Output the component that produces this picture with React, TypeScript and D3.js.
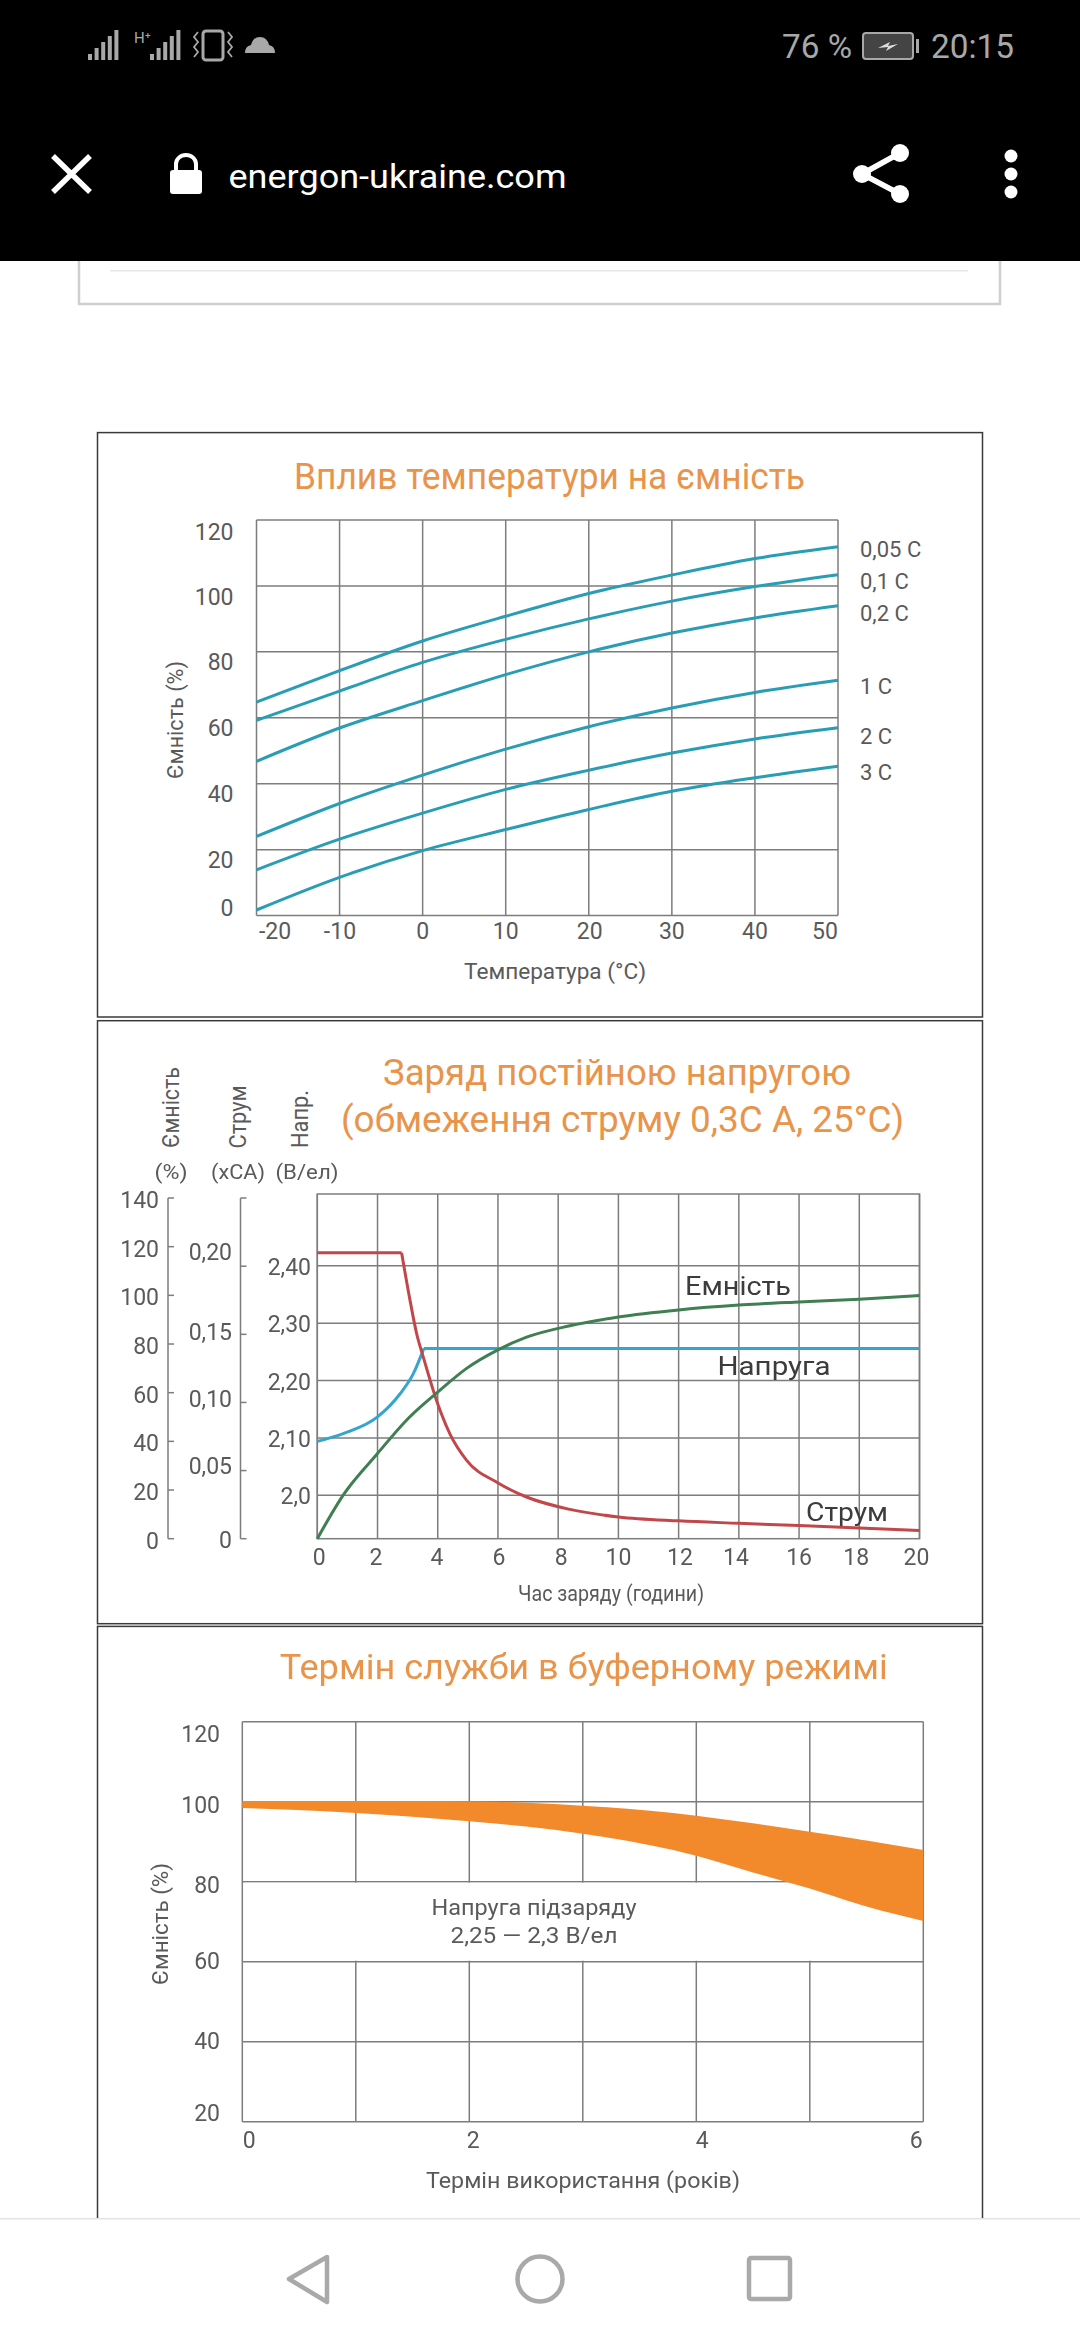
import React from "react";
import * as d3 from "d3";

// ---------- data: chart 1 (capacity vs temperature) ----------
const tempTicks = [-20, -10, 0, 10, 20, 30, 40, 50];
const capTicks1 = [0, 20, 40, 60, 80, 100, 120];
const rateLabels = ["0,05 C", "0,1 C", "0,2 C", "1 C", "2 C", "3 C"];
const rate005 = [64.8, 74.3, 83.3, 90.8, 97.7, 103.3, 108.3, 111.9];
const rate01 = [59.2, 68.1, 76.8, 83.8, 90.0, 95.4, 99.8, 103.4];
const rate02 = [46.8, 56.9, 65.2, 73.1, 80.0, 85.7, 90.3, 94.0];
const rate1 = [24.0, 34.0, 42.6, 50.5, 57.3, 63.0, 67.7, 71.4];
const rate2 = [13.9, 23.2, 31.1, 38.3, 44.1, 49.3, 53.6, 57.0];
const rate3 = [1.7, 11.6, 19.7, 26.1, 32.2, 37.7, 41.8, 45.3];

// ---------- data: chart 2 (constant voltage charge) ----------
const hourTicks = [0, 2, 4, 6, 8, 10, 12, 14, 16, 18, 20];
const chgCapTicks = [0, 20, 40, 60, 80, 100, 120, 140];
const chgCurTicks = [0, 0.05, 0.1, 0.15, 0.2];
const chgCurLabels = ["0", "0,05", "0,10", "0,15", "0,20"];
const chgVoltTicks = [2.0, 2.1, 2.2, 2.3, 2.4];
const chgVoltLabels = ["2,0", "2,10", "2,20", "2,30", "2,40"];
const curFlatHours = [0, 2.8];
const curFlat = [0.2099, 0.2099];
const curFallHours = [2.8, 3.08, 3.3, 3.52, 3.96, 4.4, 4.96, 5.99, 6.95, 8.39, 10, 12, 14, 16, 18, 20];
const curFall = [0.2099, 0.1749, 0.1504, 0.1333, 0.1015, 0.0771, 0.0575, 0.0411, 0.0306, 0.0215, 0.016, 0.0131, 0.0113, 0.0096, 0.0078, 0.0061];
const capHours = [0, 0.86, 2, 2.97, 3.96, 4.96, 6, 6.95, 8.39, 10, 12, 14, 16, 18, 20];
const capValues = [0, 17.9, 35, 48.8, 59.8, 70, 77.6, 82.8, 87.5, 91.1, 94, 96, 97.3, 98.4, 99.9];
const voltRiseHours = [0, 0.86, 2, 2.75, 3.19, 3.54];
const voltRise = [2.094, 2.1076, 2.1366, 2.177, 2.212, 2.256];
const voltFlatHours = [3.54, 20];
const voltFlat = [2.256, 2.256];

// ---------- data: chart 3 (float service life) ----------
const yearGrid = [0, 1, 2, 3, 4, 5, 6];
const yearTicks = [0, 2, 4, 6];
const lifeTicks = [20, 40, 60, 80, 100, 120];
const bandYears = [0, 1, 2, 3, 4, 4.5, 5, 5.5, 6];
const bandUpper = [100.2, 100.2, 100.1, 99, 96.5, 94.6, 92.5, 90.3, 87.9];
const bandLower = [98.4, 97.2, 95.1, 92, 86.5, 82.3, 78.3, 73.8, 70.2];

// ---------- layout ----------
const FONT = "Roboto, sans-serif";
const GRID = "#7d7d7d";
const TEXT = "#5a5a5a";
const ORANGE = "#e8944a";

const x1 = d3.scaleLinear().domain([-20, 50]).range([256.5, 838]);
const y1 = d3.scaleLinear().domain([0, 120]).range([915.6, 520]);
const c1XNudge = [18.5, 0.4, 0, 0, 1, 0, 0, -13];
const c1YNudge = [-7.6, 11, 11, 11, 11, 12, 12];
const c1LabelY = [549, 581, 613, 686, 736, 772];

const x2 = d3.scaleLinear().domain([0, 20]).range([317.3, 919.5]);
const yVolt = d3.scaleLinear().domain([1.9245, 2.525]).range([1538.7, 1194]);
const yCur = d3.scaleLinear().domain([0, 0.2]).range([1538.7, 1266.2]);
const yCap = d3.scaleLinear().domain([0, 140]).range([1538.7, 1198]);
const c2XNudge = [2, -1.5, -0.7, 1, 3, 0, 1.4, -2.8, 0, -3, -3];
const c2CurNudge = [1.3, -3.6, -3, -2, -14];

const x3 = d3.scaleLinear().domain([0, 6]).range([242.3, 923.3]);
const y3 = d3.scaleLinear().domain([20, 120]).range([2121.7, 1721.7]);
const c3XNudge = [7, 4, 6, -7];
const c3YNudge = [-8, 0, 0, 4, 4, 13];

type TP = { x: number; y: number; s: string; size?: number; fill?: string; anchor?: string; len?: number; rot?: boolean; weight?: number };
function T({ x, y, s, size = 23, fill = TEXT, anchor = "middle", len, rot, weight }: TP) {
  return (
    <text
      x={x}
      y={y}
      fontFamily={FONT}
      fontSize={size}
      fontWeight={weight}
      fill={fill}
      textAnchor={anchor}
      dominantBaseline="central"
      textLength={len}
      lengthAdjust={len ? "spacingAndGlyphs" : undefined}
      transform={rot ? `rotate(-90 ${x} ${y})` : undefined}
    >
      {s}
    </text>
  );
}

function xyLine(
  xs: number[],
  ys: number[],
  sx: (v: number) => number,
  sy: (v: number) => number,
  curve: d3.CurveFactory = d3.curveMonotoneX,
) {
  const pts = xs.map((x, i) => [sx(x), sy(ys[i])] as [number, number]);
  return d3.line().curve(curve)(pts) || "";
}

function Chart1() {
  const rates = [rate005, rate01, rate02, rate1, rate2, rate3];
  const [L, R] = x1.range();
  const [B, Tp] = y1.range();
  return (
    <g>
      <rect x={97.5} y={432.6} width={885} height={584.4} fill="#fff" stroke="#3a3a3a" strokeWidth={1.5} />
      <T x={549.5} y={476} s="Вплив температури на ємність" size={37} fill={ORANGE} len={511} />
      {capTicks1.map((v) => <line key={v} x1={L} x2={R} y1={y1(v)} y2={y1(v)} stroke={GRID} strokeWidth={1.5} />)}
      {tempTicks.map((v) => <line key={v} x1={x1(v)} x2={x1(v)} y1={B} y2={Tp} stroke={GRID} strokeWidth={1.5} />)}
      {rates.map((r, i) => (
        <path key={i} d={xyLine(tempTicks, r, x1, y1)} fill="none" stroke="#2a9db6" strokeWidth={3} />
      ))}
      {rateLabels.map((s, i) => <T key={s} x={860} y={c1LabelY[i]} s={s} anchor="start" size={22} />)}
      {capTicks1.map((v, i) => <T key={v} x={233.5} y={y1(v) + c1YNudge[i]} s={String(v)} anchor="end" />)}
      {tempTicks.map((v, i) => <T key={v} x={x1(v) + c1XNudge[i]} y={931} s={String(v)} />)}
      <T x={555} y={971} s="Температура (°C)" size={22} len={182} />
      <T x={175} y={720} s="Ємність (%)" size={22} len={118} rot />
    </g>
  );
}

function Chart2() {
  const [L, R] = x2.range();
  const [B, Tp] = yVolt.range();
  const red = "#c2474b";
  const blue = "#35a5cd";
  const green = "#3f7f52";
  return (
    <g>
      <rect x={97.5} y={1020.7} width={885} height={603} fill="#fff" stroke="#3a3a3a" strokeWidth={1.5} />
      <T x={617} y={1072.5} s="Заряд постійною напругою" size={37} fill={ORANGE} len={468} />
      <T x={622.5} y={1119} s="(обмеження струму 0,3С А, 25°С)" size={37} fill={ORANGE} len={563} />
      <T x={170.7} y={1107.5} s="Ємність" size={24} len={81} rot />
      <T x={238} y={1117} s="Струм" size={24} len={63} rot />
      <T x={300} y={1119} s="Напр." size={24} len={58} rot />
      <T x={171} y={1172} s="(%)" size={21} len={33} />
      <T x={238} y={1172} s="(хСА)" size={21} len={54} />
      <T x={307} y={1172} s="(В/ел)" size={21} len={63} />

      <line x1={168} x2={168} y1={yCap(140)} y2={yCap(0)} stroke={GRID} strokeWidth={1.5} />
      {chgCapTicks.map((v) => <line key={v} x1={168} x2={174} y1={yCap(v)} y2={yCap(v)} stroke={GRID} strokeWidth={1.5} />)}
      <line x1={240.5} x2={240.5} y1={yCap(140)} y2={yCur(0)} stroke={GRID} strokeWidth={1.5} />
      <line x1={240.5} x2={246.5} y1={yCap(140)} y2={yCap(140)} stroke={GRID} strokeWidth={1.5} />
      {chgCurTicks.map((v) => <line key={v} x1={240.5} x2={246.5} y1={yCur(v)} y2={yCur(v)} stroke={GRID} strokeWidth={1.5} />)}

      {chgVoltTicks.map((v) => <line key={v} x1={L} x2={R} y1={yVolt(v)} y2={yVolt(v)} stroke={GRID} strokeWidth={1.5} />)}
      {hourTicks.map((v) => <line key={v} x1={x2(v)} x2={x2(v)} y1={B} y2={Tp} stroke={GRID} strokeWidth={1.5} />)}
      <rect x={L} y={Tp} width={R - L} height={B - Tp} fill="none" stroke={GRID} strokeWidth={1.5} />

      <path d={xyLine(voltFlatHours, voltFlat, x2, yVolt, d3.curveLinear)} fill="none" stroke={blue} strokeWidth={3} />
      <path d={xyLine(voltRiseHours, voltRise, x2, yVolt)} fill="none" stroke={blue} strokeWidth={3} />
      <path d={xyLine(curFlatHours, curFlat, x2, yCur, d3.curveLinear)} fill="none" stroke={red} strokeWidth={3} />
      <path d={xyLine(curFallHours, curFall, x2, yCur)} fill="none" stroke={red} strokeWidth={3} />
      <path d={xyLine(capHours, capValues, x2, yCap)} fill="none" stroke={green} strokeWidth={3} />

      <T x={738} y={1286} s="Емність" size={26} fill="#3c3c3c" len={106} />
      <T x={774} y={1366} s="Напруга" size={26} fill="#3c3c3c" len={113} />
      <T x={847} y={1512} s="Струм" size={26} fill="#3c3c3c" len={82} />

      {chgCapTicks.map((v) => <T key={v} x={159} y={yCap(v) + 2.5} s={String(v)} anchor="end" />)}
      {chgCurTicks.map((v, i) => <T key={v} x={232} y={yCur(v) + c2CurNudge[i]} s={chgCurLabels[i]} anchor="end" />)}
      {chgVoltTicks.map((v, i) => <T key={v} x={311} y={yVolt(v) + 1.5} s={chgVoltLabels[i]} anchor="end" />)}
      {hourTicks.map((v, i) => <T key={v} x={x2(v) + c2XNudge[i]} y={1557.6} s={String(v)} />)}
      <T x={611} y={1593} s="Час заряду (години)" size={22} len={186} />
    </g>
  );
}

function Chart3() {
  const [L, R] = x3.range();
  const [B, Tp] = y3.range();
  const pts = bandYears.map((yr, i) => ({ yr, lo: bandLower[i], hi: bandUpper[i] }));
  const band = d3
    .area<{ yr: number; lo: number; hi: number }>()
    .x((d) => x3(d.yr))
    .y0((d) => y3(d.lo))
    .y1((d) => y3(d.hi))
    .curve(d3.curveMonotoneX)(pts) || "";
  return (
    <g>
      <rect x={97.5} y={1626.4} width={885} height={640} fill="#fff" stroke="#3a3a3a" strokeWidth={1.5} />
      <T x={583.7} y={1667} s="Термін служби в буферному режимі" size={35} fill={ORANGE} len={608} />
      {lifeTicks.map((v) => <line key={v} x1={L} x2={R} y1={y3(v)} y2={y3(v)} stroke={GRID} strokeWidth={1.5} />)}
      {yearGrid.map((v) => <line key={v} x1={x3(v)} x2={x3(v)} y1={B} y2={Tp} stroke={GRID} strokeWidth={1.5} />)}
      <rect x={L + 2} y={y3(80) + 1} width={R - L - 4} height={y3(60) - y3(80) - 2} fill="#fff" />
      <path d={band} fill="#f28a2c" />
      <T x={534} y={1907} s="Напруга підзаряду" size={22} len={205} />
      <T x={534} y={1935} s="2,25 — 2,3 В/ел" size={22} len={167} />
      {lifeTicks.map((v, i) => <T key={v} x={220} y={y3(v) + c3YNudge[i]} s={String(v)} anchor="end" />)}
      {yearTicks.map((v, i) => <T key={v} x={x3(v) + c3XNudge[i]} y={2140} s={String(v)} />)}
      <T x={583} y={2180} s="Термін використання (років)" size={22} len={314} />
      <T x={160} y={1924} s="Ємність (%)" size={22} len={122} rot />
    </g>
  );
}

function Bars({ x, n = 4 }: { x: number; n?: number }) {
  return (
    <g fill="#a8a8a8">
      {d3.range(n + 1).map((i) => {
        const h = 6 + i * 6;
        return <rect key={i} x={x + i * 6.6} y={60 - h} width={4} height={h} />;
      })}
    </g>
  );
}

function Chrome() {
  return (
    <g>
      <rect x={79} y={200} width={921} height={104} fill="#fff" stroke="#cfcfcf" strokeWidth={2.5} />
      <rect x={110} y={270} width={858} height={1.5} fill="#e6e6e6" />
      <rect x={0} y={0} width={1080} height={261} fill="#000" />
      <Bars x={88} />
      <text x={134} y={43} fontFamily={FONT} fontSize={15} fill="#a8a8a8">H⁺</text>
      <Bars x={150} />
      <rect x={203} y={31} width={20} height={29} rx={3} fill="none" stroke="#a8a8a8" strokeWidth={3} />
      <path d="M198 32 l-4 5 l4 5 l-4 5 l4 5 l-4 5 M228 32 l4 5 l-4 5 l4 5 l-4 5 l4 5" fill="none" stroke="#a8a8a8" strokeWidth={1.8} />
      <path d="M245 53 q0 -7 6 -8 q2 -8 9 -8 q7 0 9 8 q6 1 6 8 z" fill="#a8a8a8" />
      <text x={782} y={58} fontFamily={FONT} fontSize={33} fill="#a8a8a8" textLength={70} lengthAdjust="spacingAndGlyphs">76 %</text>
      <rect x={863} y={33} width={50} height={26} rx={3} fill="#444" stroke="#a8a8a8" strokeWidth={2} />
      <rect x={916} y={39} width={3} height={14} fill="#a8a8a8" />
      <path d="M878 48 l12 -6 l-2 4 l10 -2 l-12 7 l2 -4 z" fill="#ddd" />
      <text x={931} y={58} fontFamily={FONT} fontSize={33} fill="#a8a8a8" textLength={83} lengthAdjust="spacingAndGlyphs">20:15</text>
      <path d="M53 156 L90 192 M90 156 L53 192" stroke="#fff" strokeWidth={5.5} />
      <rect x={170} y={170} width={32} height={24} rx={3} fill="#fff" />
      <path d="M176 172 v-8 a10 9 0 0 1 20 0 v8" fill="none" stroke="#fff" strokeWidth={4} />
      <text x={228.5} y={188} fontFamily={FONT} fontSize={34} fill="#fff" textLength={338} lengthAdjust="spacingAndGlyphs">energon-ukraine.com</text>
      <path d="M900 153 L862 174 L900 194" fill="none" stroke="#fff" strokeWidth={5.5} />
      <circle cx={900} cy={153} r={9} fill="#fff" />
      <circle cx={862} cy={174} r={9} fill="#fff" />
      <circle cx={900} cy={194} r={9} fill="#fff" />
      <circle cx={1011} cy={156} r={6.5} fill="#fff" />
      <circle cx={1011} cy={174} r={6.5} fill="#fff" />
      <circle cx={1011} cy={192} r={6.5} fill="#fff" />
      <rect x={0} y={2219} width={1080} height={121} fill="#fff" />
      <rect x={0} y={2218} width={1080} height={1.5} fill="#e3e3e3" />
      <path d="M327 2257 L289 2279 L327 2302 Z" fill="none" stroke="#a9a9a9" strokeWidth={4.5} strokeLinejoin="round" />
      <circle cx={540} cy={2279} r={22.5} fill="none" stroke="#a9a9a9" strokeWidth={4.5} />
      <rect x={749} y={2258} width={41} height={41} rx={2} fill="none" stroke="#a9a9a9" strokeWidth={4.5} />
    </g>
  );
}

export default function App() {
  return (
    <svg
      width={1080}
      height={2340}
      viewBox="0 0 1080 2340"
      style={{ position: "absolute", left: 0, top: 0, background: "#fff" }}
    >
      <g style={{ filter: "blur(0.5px)" }}>
        <Chart1 />
        <Chart2 />
        <Chart3 />
      </g>
      <Chrome />
    </svg>
  );
}
